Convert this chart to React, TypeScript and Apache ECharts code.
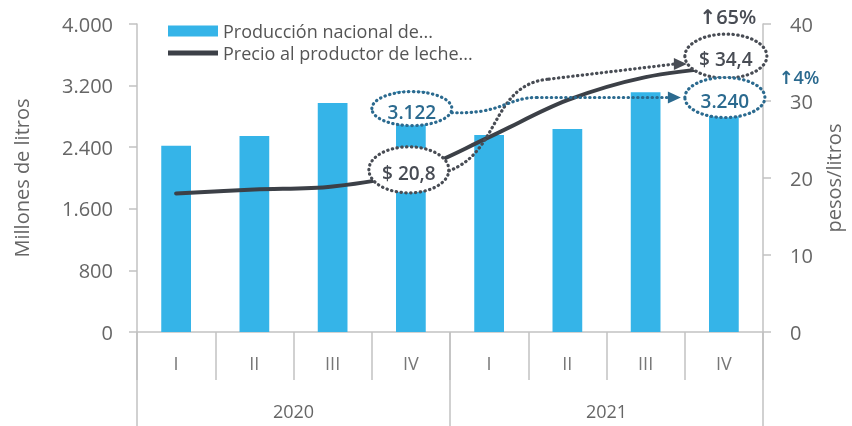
import React, { useEffect, useRef } from 'react';
import * as echarts from 'echarts';

const quarters = ['I', 'II', 'III', 'IV', 'I', 'II', 'III', 'IV'];
const years = ['2020', '2021'];
const production = [2420, 2545, 2975, 3122, 2560, 2635, 3115, 3240];
const price = [18.0, 18.5, 18.9, 20.8, 25.3, 30.1, 33.1, 34.4];
const prodName = 'Producción nacional de...';
const priceName = 'Precio al productor de leche...';
const leftAxisName = 'Millones de litros';
const rightAxisName = 'pesos/litros';
const prodLabels = ['3.122', '3.240'];
const priceLabels = ['$ 20,8', '$ 34,4'];
const changeLabels = ['↑65%', '↑4%'];

const FONT = '"Open Sans", "DejaVu Sans", sans-serif';
const BAR = '#35b4e8';
const LINE = '#3c4047';
const GRAY = '#484c54';
const BLUE = '#2b6a8f';
const AXIS = '#c2c2c2';
const TXT = '#666';

const fmtThousands = (v: number) => String(v).replace(/\B(?=(\d{3})+(?!\d))/g, '.');

export default function App() {
  const ref = useRef<HTMLDivElement>(null);
  useEffect(() => {
    const chart = echarts.init(ref.current!, null, { renderer: 'svg' });
    const option: any = {
      animation: false,
      textStyle: { fontFamily: FONT },
      grid: { left: 137, right: 89, top: 24, bottom: 94, containLabel: false },
      legend: {
        orient: 'vertical',
        left: 163,
        top: 17,
        itemWidth: 50,
        itemHeight: 11,
        itemGap: 4,
        textStyle: { fontSize: 18, color: '#555', fontFamily: FONT },
        data: [
          { name: prodName, icon: 'rect' },
          { name: priceName, icon: 'path://M0,0 L50,0 L50,5 L0,5 Z' },
        ],
      },
      xAxis: [
        {
          type: 'category',
          data: quarters,
          position: 'bottom',
          axisLine: { lineStyle: { color: AXIS, width: 1.5 } },
          axisTick: { show: true, length: 48, lineStyle: { color: AXIS, width: 1.5 } },
          axisLabel: { margin: 22, fontSize: 18, color: '#777', fontFamily: FONT },
        },
        {
          type: 'category',
          data: years,
          position: 'bottom',
          axisLine: { show: false },
          axisTick: { show: true, length: 94, lineStyle: { color: AXIS, width: 1.5 } },
          axisLabel: { margin: 70, fontSize: 18, color: '#666', fontFamily: FONT },
        },
      ],
      yAxis: [
        {
          type: 'value',
          min: 0,
          max: 4000,
          interval: 800,
          name: leftAxisName,
          nameLocation: 'middle',
          nameRotate: 90,
          nameGap: 106,
          nameTextStyle: { fontSize: 20, color: TXT, fontFamily: FONT },
          axisLine: { show: true, lineStyle: { color: AXIS, width: 1.5 } },
          axisTick: { show: true, length: 8, lineStyle: { color: AXIS, width: 1.5 } },
          splitLine: { show: false },
          axisLabel: { margin: 24, fontSize: 20, color: TXT, fontFamily: FONT, formatter: (v: number) => fmtThousands(v) },
        },
        {
          type: 'value',
          min: 0,
          max: 40,
          interval: 10,
          position: 'right',
          name: rightAxisName,
          nameLocation: 'middle',
          nameRotate: 90,
          nameGap: 60,
          nameTextStyle: { fontSize: 20, color: TXT, fontFamily: FONT },
          axisLine: { show: true, lineStyle: { color: AXIS, width: 1.5 } },
          axisTick: { show: true, length: 8, lineStyle: { color: AXIS, width: 1.5 } },
          splitLine: { show: false },
          axisLabel: { margin: 27, fontSize: 20, color: TXT, fontFamily: FONT },
        },
      ],
      series: [
        {
          name: prodName,
          type: 'bar',
          xAxisIndex: 0,
          yAxisIndex: 0,
          data: production,
          barWidth: '38%',
          itemStyle: { color: BAR },
          z: 2,
        },
        {
          name: priceName,
          type: 'line',
          xAxisIndex: 0,
          yAxisIndex: 1,
          data: price,
          smooth: 0.35,
          symbol: 'none',
          lineStyle: { color: LINE, width: 4, cap: 'round' },
          itemStyle: { color: LINE },
          z: 3,
        },
      ],
    };
    chart.setOption(option);

    const P = (i: number, v: number) => chart.convertToPixel({ seriesIndex: 0 }, [i, v]) as number[];
    const L = (i: number, v: number) => chart.convertToPixel({ seriesIndex: 1 }, [i, v]) as number[];
    const a1 = P(3, production[3]);
    const a2 = L(3, price[3]);
    const a3 = L(7, price[7]);
    const a4 = P(7, production[7]);

    const dots = (color: string) => ({
      stroke: color,
      lineWidth: 3.2,
      lineDash: [0.4, 4.4],
      lineCap: 'round',
    });
    const ell = (cx: number, cy: number, rx: number, ry: number, color: string) => ({
      type: 'ellipse',
      shape: { cx, cy, rx, ry },
      style: { fill: '#fff', ...dots(color) },
      z: 100,
    });
    const txt = (x: number, y: number, text: string, color: string, size = 19) => ({
      type: 'text',
      x,
      y,
      style: {
        text,
        fill: color,
        fontSize: size,
        fontWeight: 600,
        fontFamily: FONT,
        align: 'center',
        verticalAlign: 'middle',
      },
      z: 102,
    });

    const e1 = { x: a1[0] + 1, y: a1[1] + 17 };
    const e2 = { x: a2[0] - 2, y: a2[1] - 2 };
    const e3 = { x: a3[0] + 2, y: a3[1] - 11 };
    const e4 = { x: a4[0] + 1, y: a4[1] + 15 };

    const graphic: any[] = [
      ell(e1.x, e1.y, 40, 17, BLUE),
      ell(e2.x, e2.y, 40, 23, GRAY),
      ell(e3.x, e3.y, 41, 22, GRAY),
      ell(e4.x, e4.y, 40, 20, BLUE),
      txt(e1.x, e1.y + 3, prodLabels[0], BLUE),
      txt(e2.x, e2.y + 3, priceLabels[0], GRAY),
      txt(e3.x, e3.y + 3, priceLabels[1], GRAY),
      txt(e4.x, e4.y + 3, prodLabels[1], BLUE),
      // gray arrow ($20,8 -> $34,4)
      {
        type: 'bezierCurve',
        shape: {
          x1: e2.x + 40, y1: e2.y + 1,
          cpx1: e2.x + 92, cpy1: e2.y - 18,
          cpx2: e2.x + 82, cpy2: e3.y + 28,
          x2: e2.x + 140, y2: e3.y + 23,
        },
        style: { fill: null, ...dots(GRAY) },
        z: 101,
      },
      {
        type: 'line',
        shape: { x1: e2.x + 140, y1: e3.y + 23, x2: e3.x - 52, y2: e3.y + 8 },
        style: dots(GRAY),
        z: 101,
      },
      {
        type: 'polygon',
        shape: { points: [[e3.x - 52, e3.y + 2], [e3.x - 39, e3.y + 8], [e3.x - 52, e3.y + 14]] },
        style: { fill: GRAY },
        z: 101,
      },
      // blue arrow (3.122 -> 3.240)
      {
        type: 'bezierCurve',
        shape: {
          x1: e1.x + 40, y1: e1.y + 4,
          cpx1: e1.x + 90, cpy1: e1.y + 6,
          cpx2: e1.x + 95, cpy2: e4.y,
          x2: e1.x + 125, y2: e4.y,
        },
        style: { fill: null, ...dots(BLUE) },
        z: 101,
      },
      {
        type: 'line',
        shape: { x1: e1.x + 125, y1: e4.y, x2: e4.x - 57, y2: e4.y },
        style: dots(BLUE),
        z: 101,
      },
      {
        type: 'polygon',
        shape: { points: [[e4.x - 57, e4.y - 6], [e4.x - 44, e4.y], [e4.x - 57, e4.y + 6]] },
        style: { fill: BLUE },
        z: 101,
      },
      txt(e3.x + 2, 16, changeLabels[0], GRAY, 20),
      txt(e4.x + 74, e4.y - 21, changeLabels[1], BLUE, 18),
    ];
    chart.setOption({ graphic });
    return () => chart.dispose();
  }, []);
  return <div ref={ref} style={{ position: 'fixed', left: 0, top: 0, width: 852, height: 426 }} />;
}
